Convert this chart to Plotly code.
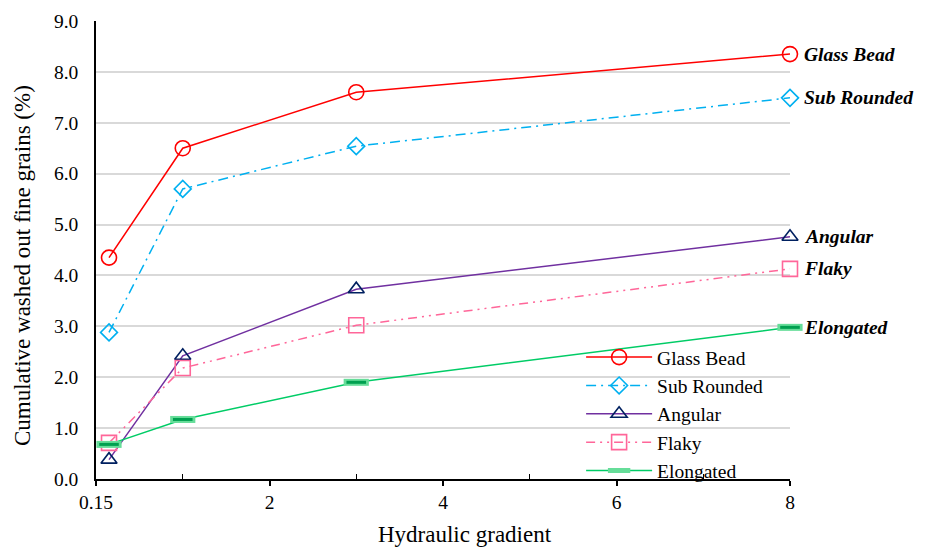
import plotly.graph_objects as go

x_vals = [0.15, 1, 3, 8]
glass_bead = [4.35, 6.50, 7.60, 8.35]
sub_rounded = [2.88, 5.70, 6.54, 7.49]
angular = [0.38, 2.42, 3.73, 4.76]
flaky = [0.71, 2.18, 3.02, 4.13]
elongated = [0.68, 1.17, 1.90, 2.98]

x_tickvals = [0, 2, 4, 6, 8]
x_ticktext = ["0.15", "2", "4", "6", "8"]

FONT = "Liberation Serif, Times New Roman, serif"

fig = go.Figure()

series = [
    ("Glass Bead", glass_bead, "#FF0000", "#FF0000", "solid", "circle-open", 15),
    ("Sub Rounded", sub_rounded, "#00B0F0", "#00B0F0", "10px,5px,2px,5px", "diamond-open", 13),
    ("Angular", angular, "#7030A0", "#002060", "solid", "triangle-up-open", 14),
    ("Flaky", flaky, "#FF6699", "#FF6699", "9px,5px,2px,5px,2px,5px", "square-open", 15),
]
for name, ys, lc, mc, dash, sym, sz in series:
    fig.add_trace(go.Scatter(
        x=x_vals, y=ys, name=name, mode="lines+markers",
        line=dict(color=lc, width=1.5, dash=dash),
        marker=dict(symbol=sym, size=sz, color=mc, line=dict(color=mc, width=1.6)),
        cliponaxis=False,
    ))

# Elongated: glow + bar marker
fig.add_trace(go.Scatter(
    x=x_vals, y=elongated, name="Elongated", mode="lines+markers",
    line=dict(color="#00CC66", width=1.5),
    marker=dict(symbol="line-ew", size=18, color="#66DD99", line=dict(color="#66DD99", width=7)),
    legendgroup="el", cliponaxis=False,
))
fig.add_trace(go.Scatter(
    x=x_vals, y=elongated, name="Elongated", mode="markers", showlegend=False,
    marker=dict(symbol="line-ew", size=14, color="#00A050", line=dict(color="#00A050", width=3)),
    legendgroup="el", cliponaxis=False,
))

labels = ["Glass Bead", "Sub Rounded", "Angular", "Flaky", "Elongated"]
ends = [glass_bead[-1], sub_rounded[-1], angular[-1], flaky[-1], elongated[-1]]
for lab, yv in zip(labels, ends):
    fig.add_annotation(x=8, y=yv, text="<b><i>" + lab + "</i></b>", showarrow=False,
                       xanchor="left", yanchor="middle", xshift=12,
                       font=dict(family=FONT, size=19.5, color="black"))

# Axis titles (placed as in the reference)
fig.add_annotation(xref="paper", yref="paper", x=0.532, y=-0.122, text="Hydraulic gradient",
                   showarrow=False, xanchor="center", yanchor="middle",
                   font=dict(family=FONT, size=23, color="black"))
fig.add_annotation(xref="paper", yref="paper", x=-0.1066, y=0.465,
                   text="Cumulative washed out fine grains (%)", textangle=-90,
                   showarrow=False, xanchor="center", yanchor="middle",
                   font=dict(family=FONT, size=23, color="black"))

fig.update_layout(
    width=924, height=542,
    margin=dict(l=88, r=142, t=13, b=71),
    plot_bgcolor="white", paper_bgcolor="white",
    font=dict(family=FONT, size=19.5, color="black"),
    showlegend=True,
    legend=dict(x=0.699, y=0.308, xanchor="left", yanchor="top",
                bgcolor="rgba(0,0,0,0)", font=dict(family=FONT, size=19.5),
                tracegroupgap=0, itemwidth=66),
    xaxis=dict(range=[0, 8], tickvals=x_tickvals, ticktext=x_ticktext, automargin=False,
               showgrid=False, zeroline=False, showline=True, linecolor="black", linewidth=1.5,
               ticks="outside", ticklen=5, tickcolor="black", tickwidth=1.5,
               ticklabelstandoff=0,
               minor=dict(tickvals=[1, 3, 5, 7], ticks="inside", ticklen=5,
                          tickcolor="black", tickwidth=1, showgrid=False)),
    yaxis=dict(range=[0, 9], dtick=1, tickformat=".1f", automargin=False,
               showgrid=True, gridcolor="#D9D9D9", gridwidth=1.5,
               zeroline=False, showline=True, linecolor="black", linewidth=1.5,
               ticks="", ticklabelstandoff=12),
)

fig.write_html("out.html")
